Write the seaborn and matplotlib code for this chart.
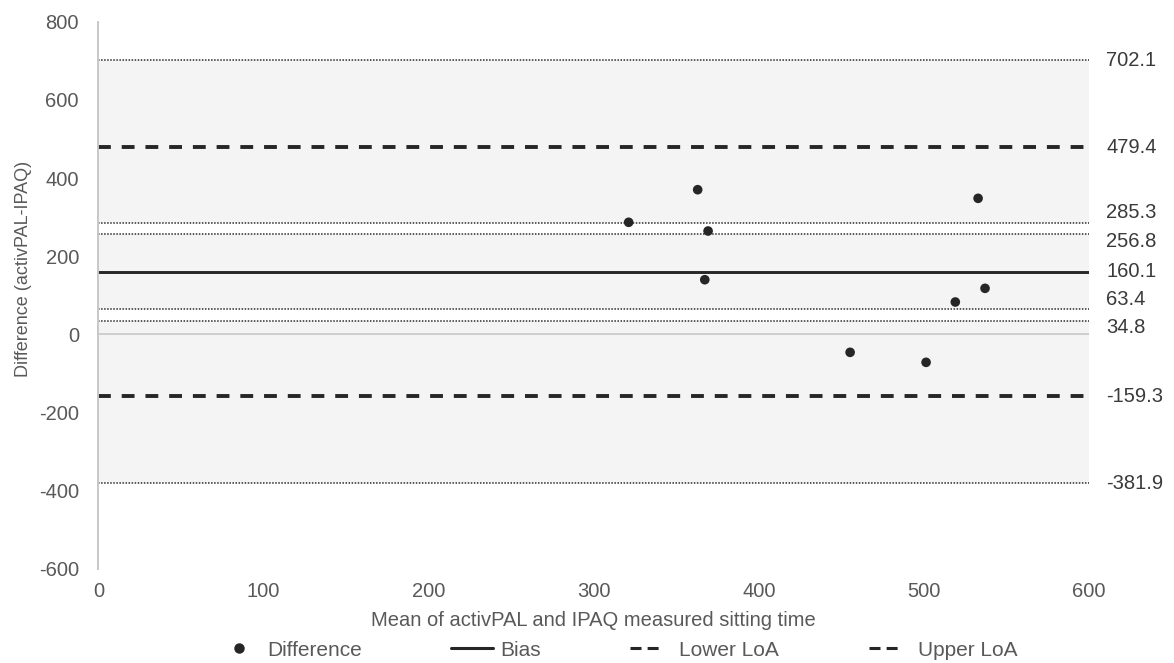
import matplotlib
matplotlib.use("Agg")
import matplotlib.pyplot as plt
from matplotlib.lines import Line2D
import pandas as pd
import seaborn as sns

# Bland-Altman data: mean of the two methods vs. their difference (minutes)
mean_sitting = [321.1, 362.9, 369.2, 367.2, 532.7, 536.9, 518.9, 455.2, 501.2]
difference = [286.6, 370.1, 264.3, 139.6, 348.0, 117.5, 82.5, -46.4, -72.0]

bias = 160.1
lower_loa = -159.3
upper_loa = 479.4
# 95% confidence intervals of the lower LoA, the bias and the upper LoA
lower_loa_ci = [-381.9, 63.4]
bias_ci = [34.8, 285.3]
upper_loa_ci = [256.8, 702.1]

x_ticks = [0, 100, 200, 300, 400, 500, 600]
y_ticks = [-600, -400, -200, 0, 200, 400, 600, 800]

legend_labels = ["Difference", "Bias", "Lower LoA", "Upper LoA"]
x_title = "Mean of activPAL and IPAQ measured sitting time"
y_title = "Difference (activPAL-IPAQ)"

df = pd.DataFrame({"mean": mean_sitting, "diff": difference})

sns.set_theme(style="white")
plt.rcParams["font.family"] = ["Liberation Sans", "DejaVu Sans"]
plt.rcParams["axes.unicode_minus"] = False

TICK_C = "#595959"
INK = "#262626"

fig = plt.figure(figsize=(11.74, 6.63), dpi=100)
ax = fig.add_axes([0.0838, 0.1425, 0.9278 - 0.0838, 0.9671 - 0.1425])
ax.set_xlim(x_ticks[0], x_ticks[-1])
ax.set_ylim(y_ticks[0], y_ticks[-1])

# Shade the parts of the axis covered by exactly one confidence interval
cis = [lower_loa_ci, bias_ci, upper_loa_ci]
edges = sorted({v for ci in cis for v in ci})
for lo, hi in zip(edges[:-1], edges[1:]):
    mid = (lo + hi) / 2
    cover = sum(ci[0] <= mid <= ci[1] for ci in cis)
    if cover == 1:
        ax.axhspan(lo, hi, color="#f4f4f4", lw=0, zorder=0)

ax.axhline(0, color="#c8c8c8", lw=1.2, zorder=1)

for v in edges:
    ax.axhline(v, color="#2e2e2e", lw=1.1, ls=(0, (1, 1)), zorder=2)

ax.axhline(bias, color=INK, lw=2.1, zorder=3)
for v in (lower_loa, upper_loa):
    ax.axhline(v, color=INK, lw=2.8, ls=(0, (3.3, 2.8)), zorder=3)

sns.scatterplot(data=df, x="mean", y="diff", ax=ax, color=INK, s=48,
                edgecolor="none", legend=False, zorder=5)

# Value labels beside the reference lines (pixel nudges avoid overlaps)
nudge = {285.3: 10.5, 256.8: -8.0, 63.4: 9.7, 34.8: -7.3}
for v in sorted(edges + [bias, lower_loa, upper_loa], reverse=True):
    ax.annotate(f"{v:.1f}", xy=(1, v), xycoords=ax.get_yaxis_transform(),
                xytext=(17, nudge.get(v, 0)), textcoords="offset pixels",
                ha="left", va="center", fontsize=14.5, color="#3a3a3a")

for side in ("top", "right", "bottom"):
    ax.spines[side].set_visible(False)
ax.spines["left"].set_color("#c8c8c8")
ax.spines["left"].set_linewidth(1.4)
ax.spines["left"].set_zorder(4)

ax.set_xticks(x_ticks)
ax.set_yticks(y_ticks)
ax.tick_params(axis="both", length=0, labelsize=14.5, labelcolor=TICK_C)
ax.tick_params(axis="x", pad=10)
ax.tick_params(axis="y", pad=14)
ax.set_xlabel("")
ax.set_ylabel("")
ax.grid(False)

fig.text(593.8 / 1174, 1 - 621 / 663, x_title, ha="center", va="center",
         fontsize=14.5, color=TICK_C)
fig.text(24 / 1174, 1 - 269 / 663, y_title, ha="center", va="center",
         rotation=90, fontsize=13, color=TICK_C)

handles = [
    Line2D([], [], marker="o", ls="none", color=INK, markersize=6.5),
    Line2D([], [], color=INK, lw=2.2),
    Line2D([], [], color=INK, lw=2.2, ls=(0, (3.6, 2.0, 3.6, 12))),
    Line2D([], [], color=INK, lw=2.2, ls=(0, (3.6, 2.0, 3.6, 12))),
]
fig.legend(handles, legend_labels, loc="center",
           bbox_to_anchor=(617.5 / 1174, 1 - 650 / 663), ncol=4,
           frameon=False, fontsize=15, labelcolor=TICK_C,
           handlelength=2.0, handletextpad=0.35, columnspacing=4.3,
           borderpad=0, borderaxespad=0)

fig.savefig("out.png", dpi=100)
